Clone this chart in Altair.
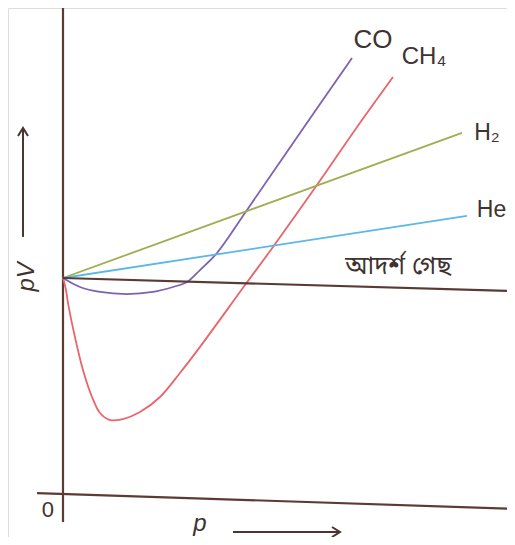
import altair as alt
import pandas as pd

# ---- data (p in arbitrary units, pV relative to ideal = 1) ----
ch4_p  = [0.000, 0.066, 0.111, 0.265, 0.442, 0.642, 0.819, 1.040, 1.327, 1.704, 2.146, 2.588, 3.031, 4.027, 4.646, 5.619, 6.460, 7.301]
ch4_pv = [1.000, 0.944, 0.883, 0.724, 0.570, 0.444, 0.369, 0.336, 0.341, 0.374, 0.444, 0.556, 0.678, 0.967, 1.145, 1.435, 1.692, 1.939]

co_p  = [0.000, 0.376, 0.819, 1.416, 1.991, 2.434, 2.743, 3.031, 3.407, 4.071, 5.243, 6.394]
co_pv = [1.000, 0.958, 0.935, 0.925, 0.935, 0.958, 0.981, 1.037, 1.117, 1.318, 1.678, 2.028]

h2_p  = [0.0, 8.827]
h2_pv = [1.0, 1.678]

he_p  = [0.0, 8.938]
he_pv = [1.0, 1.290]

ideal_p  = [0.0, 10.0]
ideal_pv = [1.0, 0.939]

xaxis_p  = [-0.575, 10.0]
xaxis_pv = [-0.005, -0.079]
yaxis_p  = [0.0, 0.0]
yaxis_pv = [-0.140, 2.262]

series_names  = ["CH4", "CO", "H2", "He", "ideal"]
series_colors = ["#e8656b", "#7c62b0", "#a0ad52", "#5bb8e6", "#5a3a35"]

labels_text = ["CO", "CH₄", "H₂", "He", "আদর্শ গেছ", "0"]
labels_p    = [6.858, 7.987, 9.380, 9.480, 7.420, -0.332]
labels_pv   = [2.112, 2.033, 1.678, 1.318, 1.056, -0.084]
labels_size = [26, 24, 23, 23, 25, 22]

X_DOMAIN = [-1.2168, 9.823]
Y_DOMAIN = [-0.2103, 2.2617]
W, H = 499, 529

rows = []
for name, ps, pvs in [("CH4", ch4_p, ch4_pv), ("CO", co_p, co_pv), ("H2", h2_p, h2_pv),
                      ("He", he_p, he_pv), ("ideal", ideal_p, ideal_pv)]:
    for i, (a, b) in enumerate(zip(ps, pvs)):
        rows.append({"series": name, "p": a, "pV": b, "i": i})
curves = pd.DataFrame(rows)

axes = pd.DataFrame(
    [{"ax": "x", "p": a, "pV": b, "i": i} for i, (a, b) in enumerate(zip(xaxis_p, xaxis_pv))]
    + [{"ax": "y", "p": a, "pV": b, "i": i} for i, (a, b) in enumerate(zip(yaxis_p, yaxis_pv))]
)

labels = pd.DataFrame({"t": labels_text, "p": labels_p, "pV": labels_pv, "s": labels_size})

xs = alt.Scale(domain=X_DOMAIN, nice=False, zero=False)
ys = alt.Scale(domain=Y_DOMAIN, nice=False, zero=False)
X = alt.X("p:Q", scale=xs, axis=None)
Y = alt.Y("pV:Q", scale=ys, axis=None)

ink = "#3e3330"

axis_layer = alt.Chart(axes).mark_line(color="#5b3b33", strokeWidth=2.2).encode(
    x=X, y=Y, detail="ax:N", order="i:Q")

curve_layer = alt.Chart(curves).mark_line(interpolate="catmull-rom").encode(
    x=X, y=Y,
    color=alt.Color("series:N", scale=alt.Scale(domain=series_names, range=series_colors), legend=None),
    strokeWidth=alt.condition(alt.datum.series == "ideal", alt.value(2.2), alt.value(1.8)),
    order="i:Q")

label_layer = alt.Chart(labels).mark_text(
    font="Liberation Sans, Noto Sans Bengali, Noto Sans, sans-serif", color=ink,
    align="center", baseline="middle").encode(
    x=X, y=Y, text="t:N", size=alt.Size("s:Q", scale=None, legend=None))

# axis titles
ptitle = pd.DataFrame({"t": ["p"], "p": [3.031], "pV": [-0.180]})
pv_title = pd.DataFrame({"t": ["pV"], "p": [-0.796], "pV": [1.005]})

p_layer = alt.Chart(ptitle).mark_text(fontSize=24, fontStyle="italic", color=ink,
                                      font="Liberation Sans", baseline="alphabetic").encode(
    x=X, y=Y, text="t:N")
pv_layer = alt.Chart(pv_title).mark_text(fontSize=24, fontStyle="italic", color=ink,
                                         font="Liberation Sans", angle=270,
                                         baseline="middle", align="center").encode(
    x=X, y=Y, text="t:N")

# arrows (shaft + open chevron head)
ux = (X_DOMAIN[1] - X_DOMAIN[0]) / W   # data units per pixel
uy = (Y_DOMAIN[1] - Y_DOMAIN[0]) / H
arrx_p, arrx_pv = [3.761, 6.128], [-0.187, -0.187]
arry_p, arry_pv = [-0.885, -0.885], [1.192, 1.701]

tipx = (arrx_p[1], arrx_pv[1])
tipy = (arry_p[1], arry_pv[1])
arrow_rows = []
for k, (a, b) in enumerate(zip(arrx_p, arrx_pv)):
    arrow_rows.append({"g": "xs", "p": a, "pV": b, "i": k})
for k, (a, b) in enumerate(zip(arry_p, arry_pv)):
    arrow_rows.append({"g": "ys", "p": a, "pV": b, "i": k})
for k, (dx, dy) in enumerate([(-8, 5), (0, 0), (-8, -5)]):
    arrow_rows.append({"g": "xh", "p": tipx[0] + dx * ux, "pV": tipx[1] + dy * uy, "i": k})
for k, (dx, dy) in enumerate([(-5, -8), (0, 0), (5, -8)]):
    arrow_rows.append({"g": "yh", "p": tipy[0] + dx * ux, "pV": tipy[1] + dy * uy, "i": k})
arrows = pd.DataFrame(arrow_rows)
arrow_col = "#4a3530"
arrow_layer = alt.Chart(arrows).mark_line(color=arrow_col, strokeWidth=2).encode(
    x=X, y=Y, detail="g:N", order="i:Q")

chart = alt.layer(axis_layer, curve_layer, label_layer, p_layer, pv_layer,
                  arrow_layer).properties(
    width=W, height=H, padding=0, autosize=alt.AutoSizeParams(type="none")
).configure_view(strokeWidth=0, stroke="transparent").configure(background="white")

chart.save("out.html", embed_options={"renderer": "svg", "actions": False})
